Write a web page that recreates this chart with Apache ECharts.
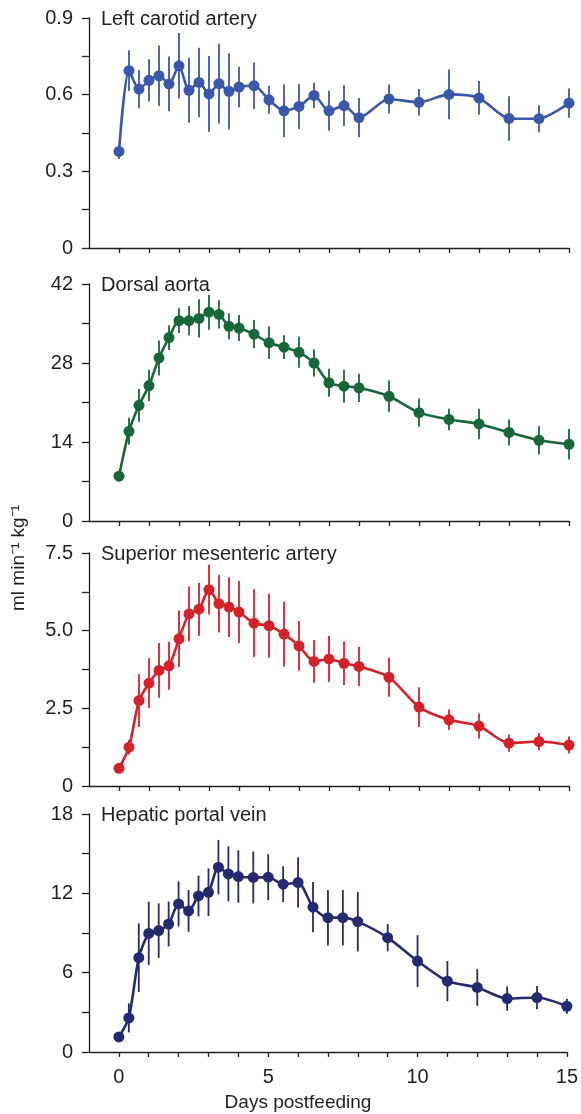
<!DOCTYPE html>
<html><head><meta charset="utf-8">
<script src="https://cdn.jsdelivr.net/npm/echarts@6/dist/echarts.min.js"></script>
<style>html,body{margin:0;padding:0;background:#fff}#c{width:581px;height:1114px}</style>
</head><body><div id="c"></div>
<script>
// Sampling times (days postfeeding)
const days = [0, 1/3, 2/3, 1, 4/3, 5/3, 2, 7/3, 8/3, 3, 10/3, 11/3, 4, 4.5, 5, 5.5, 6, 6.5, 7, 7.5, 8, 9, 10, 11, 12, 13, 14, 15];

const carotidMean = [0.378, 0.694, 0.622, 0.656, 0.674, 0.642, 0.713, 0.617, 0.648, 0.603, 0.643, 0.613, 0.630, 0.635, 0.580, 0.537, 0.554, 0.597, 0.537, 0.557, 0.510, 0.583, 0.570, 0.601, 0.587, 0.507, 0.506, 0.567];
const carotidErr  = [0.03, 0.08, 0.075, 0.083, 0.118, 0.107, 0.128, 0.127, 0.136, 0.148, 0.156, 0.149, 0.079, 0.091, 0.055, 0.104, 0.088, 0.05, 0.078, 0.08, 0.077, 0.057, 0.052, 0.097, 0.066, 0.087, 0.053, 0.057];

const aortaMean = [7.95, 15.9, 20.5, 24.0, 28.9, 32.5, 35.5, 35.5, 35.9, 37.0, 36.6, 34.5, 34.2, 33.1, 31.6, 30.8, 29.9, 28.0, 24.5, 23.9, 23.6, 22.1, 19.2, 18.0, 17.2, 15.7, 14.3, 13.6];
const aortaErr  = [0.5, 2.4, 2.9, 2.75, 3.1, 2.2, 2.2, 2.6, 3.4, 3.1, 2.5, 2.3, 2.3, 2.5, 2.9, 2.1, 2.75, 2.4, 2.5, 2.9, 2.5, 2.8, 2.5, 1.9, 2.7, 2.3, 2.5, 2.7];

const mesentericMean = [0.57, 1.25, 2.75, 3.31, 3.72, 3.87, 4.74, 5.54, 5.69, 6.32, 5.87, 5.76, 5.60, 5.24, 5.16, 4.89, 4.51, 4.01, 4.09, 3.95, 3.85, 3.50, 2.54, 2.13, 1.93, 1.38, 1.43, 1.32];
const mesentericErr  = [0.08, 0.24, 0.85, 0.8, 0.88, 0.77, 0.91, 0.88, 0.85, 0.8, 0.93, 0.96, 1.0, 1.09, 1.03, 1.04, 0.8, 0.69, 0.74, 0.7, 0.63, 0.63, 0.64, 0.33, 0.4, 0.28, 0.28, 0.27];

const portalMean = [1.14, 2.58, 7.13, 8.97, 9.18, 9.68, 11.2, 10.67, 11.8, 12.08, 13.98, 13.47, 13.27, 13.2, 13.22, 12.69, 12.82, 10.95, 10.16, 10.16, 9.86, 8.65, 6.88, 5.36, 4.88, 4.04, 4.12, 3.46];
const portalErr  = [0.2, 1.1, 2.6, 2.4, 2.06, 1.7, 1.7, 1.58, 1.54, 1.8, 2.06, 2.08, 1.98, 1.96, 1.74, 1.35, 1.9, 1.9, 2.1, 2.1, 2.25, 1.04, 1.96, 1.52, 1.39, 0.92, 0.88, 0.57];

const panelTitles = ['Left carotid artery', 'Dorsal aorta', 'Superior mesenteric artery', 'Hepatic portal vein'];
const yTickLabels = [[0, 0.3, 0.6, 0.9], [0, 14, 28, 42], [0, 2.5, 5, 7.5], [0, 6, 12, 18]];
const yMinorTicks = [[0, 0.15, 0.3, 0.45, 0.6, 0.75, 0.9], [0, 7, 14, 21, 28, 35, 42], [0, 1.25, 2.5, 3.75, 5, 6.25, 7.5], [0, 3, 6, 9, 12, 15, 18]];
const xTickValues = [0,1,2,3,4,5,6,7,8,9,10,11,12,13,14,15];
const xTickLabels = [0, 5, 10, 15];
const yLabelFmt = [v => v === 0 ? '0' : v.toFixed(1), v => String(v), v => v === 0 ? '0' : v.toFixed(1), v => String(v)];

const means = [carotidMean, aortaMean, mesentericMean, portalMean];
const errs = [carotidErr, aortaErr, mesentericErr, portalErr];
const colors = ['#3b57a9', '#17673a', '#d3222a', '#252a70'];

const gridTops = [18, 284, 553, 814];
const gridHeights = [230, 237, 233, 238];
const FONT = 'Liberation Sans, Arial, Helvetica, sans-serif';
const axisColor = '#231f20';

const chart = echarts.init(document.getElementById('c'), null, {renderer: 'canvas'});

const grids = [], xAxes = [], yAxes = [], series = [], graphics = [];
for (let i = 0; i < 4; i++) {
  grids.push({left: 89, right: 12, top: gridTops[i], height: gridHeights[i], containLabel: false});
  xAxes.push({
    type: 'value', gridIndex: i, min: -1, max: 15,
    axisLine: {show: true, onZero: false, lineStyle: {color: axisColor, width: 1.3}},
    axisTick: {show: true, customValues: xTickValues, length: 5, lineStyle: {color: axisColor, width: 1.3}},
    axisLabel: {show: i === 3, customValues: xTickLabels, fontFamily: FONT, fontSize: 20, color: '#231f20', margin: 15},
    splitLine: {show: false}
  });
  const ymax = yTickLabels[i][3];
  yAxes.push({
    type: 'value', gridIndex: i, min: 0, max: ymax,
    axisLine: {show: true, onZero: false, lineStyle: {color: axisColor, width: 1.3}},
    axisTick: {show: true, customValues: yMinorTicks[i], length: 7, lineStyle: {color: axisColor, width: 1.3}},
    axisLabel: {show: true, customValues: yTickLabels[i], formatter: yLabelFmt[i], fontFamily: FONT, fontSize: 20, color: '#231f20', margin: 16},
    splitLine: {show: false}
  });
  const pts = days.map((d, k) => [d, means[i][k]]);
  const bars = days.map((d, k) => [d, means[i][k] - errs[i][k], means[i][k] + errs[i][k]]);
  series.push({
    type: 'custom', xAxisIndex: i, yAxisIndex: i, data: bars, z: 2, silent: true,
    renderItem: (params, api) => {
      const p1 = api.coord([api.value(0), api.value(1)]);
      const p2 = api.coord([api.value(0), api.value(2)]);
      return {type: 'line', shape: {x1: p1[0], y1: p1[1], x2: p2[0], y2: p2[1]}, style: {stroke: colors[i], lineWidth: 1.8}};
    }
  });
  series.push({
    type: 'line', xAxisIndex: i, yAxisIndex: i, data: pts, smooth: 0.25, z: 3,
    symbol: 'circle', symbolSize: 11, showSymbol: true,
    lineStyle: {color: colors[i], width: 2.6},
    itemStyle: {color: colors[i]},
    animation: false
  });
  graphics.push({type: 'text', x: 101, y: gridTops[i] + 1,
    style: {text: panelTitles[i], font: '20px ' + FONT, fill: '#231f20', textVerticalAlign: 'middle'}});
}
graphics.push({type: 'text', x: 298, y: 1103, style: {text: 'Days postfeeding', font: '19px ' + FONT, fill: '#231f20', textAlign: 'center', textVerticalAlign: 'middle'}});
graphics.push({type: 'text', x: 19, y: 558, rotation: Math.PI / 2, style: {text: 'ml min\u207B\u00B9 kg\u207B\u00B9', font: '19px ' + FONT, fill: '#231f20', textAlign: 'center', textVerticalAlign: 'middle'}});

chart.setOption({
  animation: false,
  grid: grids, xAxis: xAxes, yAxis: yAxes, series: series, graphic: graphics
});
</script>
</body></html>
